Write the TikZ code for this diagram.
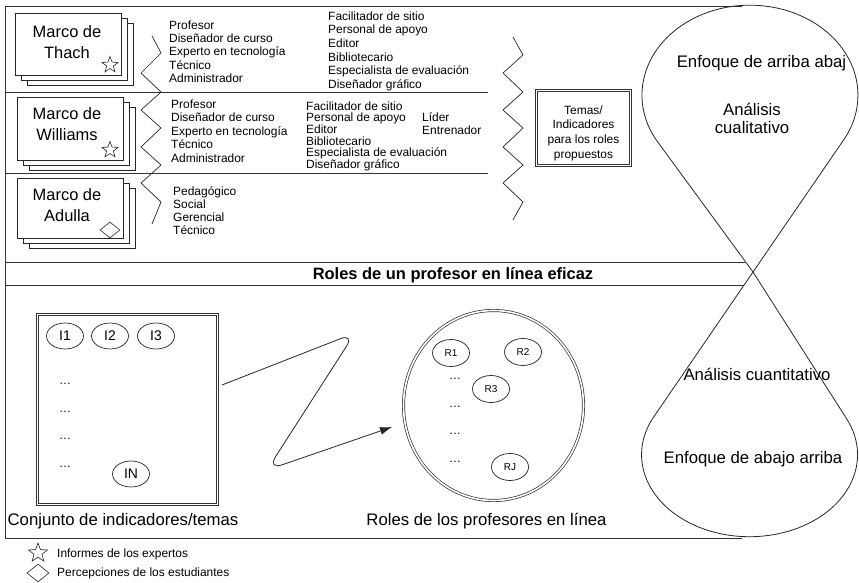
\documentclass[tikz,border=0pt]{standalone}
\usepackage{fontspec}
\setmainfont{Liberation Sans}
\usetikzlibrary{shapes.geometric,arrows.meta}
\begin{document}
\begin{tikzpicture}[x=1bp,y=-1bp,
  frameline/.style={draw=black!80,line width=0.9bp},
  card/.style={draw=black!85,fill=white,line width=0.8bp,inner sep=0pt,anchor=north west,minimum width=106bp},
  cardtitle/.style={align=center,font=\fontsize{16.5}{21}\selectfont,inner sep=0pt},
  item/.style={anchor=base west,inner sep=0pt,font=\fontsize{12}{14}\selectfont},
  zig/.style={draw=black!85,line width=0.7bp},
  dbl/.style={draw=black!80,double=white,double distance=1.6bp,line width=0.7bp,inner sep=0pt},
  oval/.style={ellipse,draw=black!85,line width=0.7bp,inner sep=0pt},
  big/.style={anchor=base,inner sep=0pt,font=\fontsize{16.8}{20}\selectfont},
  dotsty/.style={anchor=base,inner sep=0pt,font=\fontsize{12}{14}\selectfont},
  starmark/.style={star,star points=5,star point ratio=2.4,draw=black!85,line width=0.6bp,inner sep=0pt,minimum size=17bp},
  diamark/.style={diamond,draw=black!85,line width=0.6bp,inner sep=0pt,minimum width=20bp,minimum height=16bp},
  conn/.style={draw=black!85,line width=0.8bp,rounded corners=16bp,-{Latex[length=12bp,width=8bp]}},
]
\useasboundingbox (0,0) rectangle (859,583);
\clip (0,0) rectangle (859,583);

% outer frame and separators
\draw[frameline] (742,6) -- (5,6) -- (5,538) -- (742,538);
\draw[frameline] (5,92) -- (488,92);
\draw[frameline] (5,173) -- (488,173);
\draw[frameline] (5,262) -- (745,262);
\draw[frameline] (5,285) -- (744,285);

% balloon (figure of eight)
\draw[draw=black!85,line width=0.8bp]
  (657,141) arc[start angle=149.4,end angle=390.6,x radius=108,y radius=90]
  -- (753,272) -- (653,418)
  arc[start angle=206.6,end angle=-26.6,x radius=108,y radius=82]
  -- (753,272) -- cycle;

% stacked cards
\node[card,minimum height=62bp] (th3) at (27,23) {};
\node[card,minimum height=62bp] (th2) at (21,18) {};
\node[card,minimum height=62bp] (th1) at (15,13) {};
\node[card,minimum height=63bp] (wi3) at (29,107) {};
\node[card,minimum height=63bp] (wi2) at (23,102) {};
\node[card,minimum height=63bp] (wi1) at (17,97) {};
\node[card,minimum height=60bp] (ad3) at (29,188) {};
\node[card,minimum height=60bp] (ad2) at (23,183) {};
\node[card,minimum height=60bp] (ad1) at (17,178) {};

\node[cardtitle] (thT) at (67,42) {Marco de\\Thach};
\node[cardtitle] (wiT) at (67,124) {Marco de\\Williams};
\node[cardtitle] (adT) at (67,205) {Marco de\\Adulla};

\node[starmark] (thS) at (110,65) {};
\node[starmark] (wiS) at (110,150) {};
\node[diamark] (adD) at (110,230) {};

% zigzag braces
\draw[zig] (152,36)--(161,53)--(141,73)--(161,92)--(141,110)--(161,128)--(141,147)--(161,165)--(141,183)--(161,202)--(152,224);
\draw[zig] (513,37)--(523,55)--(503,73)--(523,92)--(503,110)--(523,128)--(503,147)--(523,165)--(503,183)--(523,202)--(513,220);

% lists
\foreach \t [count=\i from 0] in {Profesor,Diseñador de curso,Experto en tecnología,Técnico,Administrador}
  \node[item] (ta\i) at (169,29.3+13.3*\i) {\t};
\foreach \t [count=\i from 0] in {Facilitador de sitio,Personal de apoyo,Editor,Bibliotecario,Especialista de evaluación,Diseñador gráfico}
  \node[item] (tb\i) at (328,20.3+13.6*\i) {\t};
\foreach \t [count=\i from 0] in {Profesor,Diseñador de curso,Experto en tecnología,Técnico,Administrador}
  \node[item] (wa\i) at (171,108.3+13.5*\i) {\t};
\foreach \t [count=\i from 0] in {Facilitador de sitio,Personal de apoyo,Editor,Bibliotecario,Especialista de evaluación,Diseñador gráfico}
  \node[item] (wb\i) at (306,110.3+11.6*\i) {\t};
\foreach \t [count=\i from 0] in {Líder,Entrenador}
  \node[item] (wc\i) at (422,121.3+13*\i) {\t};
\foreach \t [count=\i from 0] in {Pedagógico,Social,Gerencial,Técnico}
  \node[item] (aa\i) at (173,196+12.9*\i) {\t};

% Temas box
\node[dbl,minimum width=94bp,minimum height=75bp] (temas) at (583.5,128) {};
\node[align=center,inner sep=0pt,font=\fontsize{12}{14.7}\selectfont] (temasT) at (583.5,133) {Temas/\\Indicadores\\para los roles\\propuestos};

% balloon texts
\node[big] (eA) at (761.5,68) {Enfoque de arriba abaj};
\node[align=center,inner sep=0pt,font=\fontsize{16.8}{18}\selectfont] (aC) at (752,118) {Análisis\\cualitativo};
\node[big] (aQ) at (757,380) {Análisis cuantitativo};
\node[big] (eB) at (753,463) {Enfoque de abajo arriba};

% band title
\node[anchor=base,inner sep=0pt,font=\fontsize{16.5}{20}\selectfont\bfseries] (band) at (453,279.5) {Roles de un profesor en línea eficaz};

% indicators box
\node[dbl,minimum width=180bp,minimum height=190bp] (ind) at (127.5,409.5) {};
\node[oval,minimum width=37bp,minimum height=26bp,font=\fontsize{14}{16}\selectfont] (i1) at (65,336) {I1};
\node[oval,minimum width=37bp,minimum height=26bp,font=\fontsize{14}{16}\selectfont] (i2) at (110,336) {I2};
\node[oval,minimum width=37bp,minimum height=26bp,font=\fontsize{14}{16}\selectfont] (i3) at (156,336) {I3};
\node[oval,minimum width=37bp,minimum height=26bp,font=\fontsize{14}{16}\selectfont] (iN) at (131,474) {IN};
\foreach \y [count=\i] in {383,411,438,466}
  \node[dotsty] (id\i) at (65,\y+1.5) {\dots};

% roles ellipse
\node[dbl,ellipse,minimum width=180bp,minimum height=190bp] (roles) at (493.5,405.5) {};
\node[oval,minimum width=37bp,minimum height=27bp,font=\fontsize{10}{12}\selectfont] (r1) at (451,353) {R1};
\node[oval,minimum width=37bp,minimum height=27bp,font=\fontsize{10}{12}\selectfont] (r2) at (523,352) {R2};
\node[oval,minimum width=37bp,minimum height=27bp,font=\fontsize{10}{12}\selectfont] (r3) at (491,389) {R3};
\node[oval,minimum width=37bp,minimum height=27bp,font=\fontsize{10}{12}\selectfont] (rJ) at (510,467) {RJ};
\foreach \y [count=\i] in {378,406,433,461}
  \node[dotsty] (rd\i) at (455,\y+1.5) {\dots};

% connector
\coordinate (cs) at (222,385);
\coordinate (k1) at (355,333);
\coordinate (k2) at (267,470);
\coordinate (ct) at (392,427);
\draw[conn] (cs) -- (k1) -- (k2) -- (ct);

% captions
\node[big] (capI) at (123,525) {Conjunto de indicadores/temas};
\node[big] (capR) at (486.5,525) {Roles de los profesores en línea};

% legend
\node[starmark,minimum size=20bp] (lgS) at (38,553) {};
\node[diamark,minimum width=22bp,minimum height=18bp] (lgD) at (38,573) {};
\node[item] (lgT1) at (57,557.3) {Informes de los expertos};
\node[item] (lgT2) at (57,576.3) {Percepciones de los estudiantes};
\end{tikzpicture}
\end{document}
